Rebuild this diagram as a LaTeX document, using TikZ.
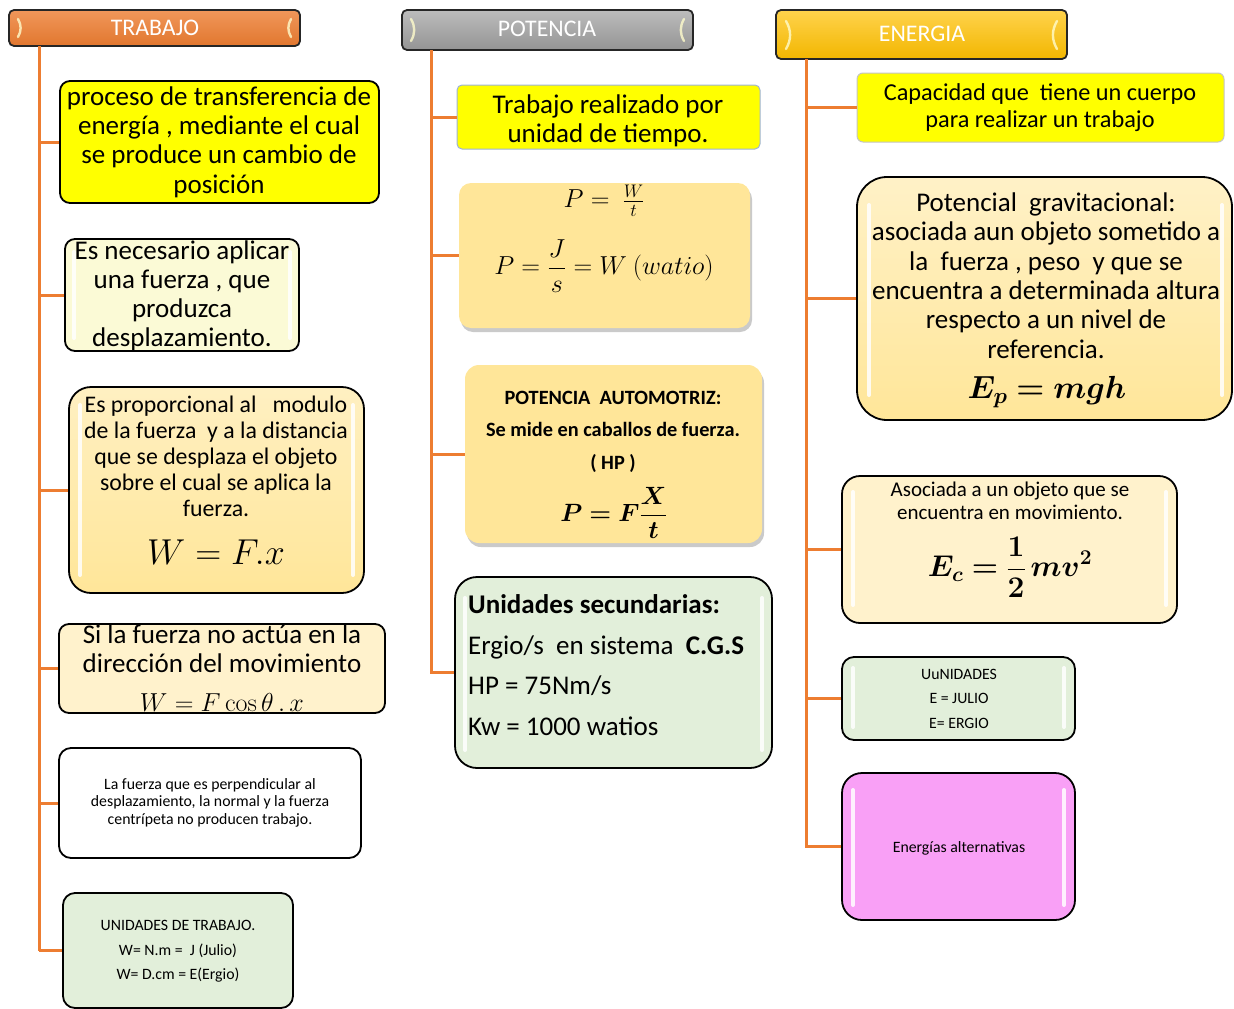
\RequirePackage{fix-cm}
\documentclass[tikz,border=0pt]{standalone}
\usepackage{bm}
\usepackage[no-math]{fontspec}
\setmainfont{Carlito}
\usetikzlibrary{fit,shadows}
\definecolor{orng}{HTML}{ED7D31}
\definecolor{hgray}{HTML}{A5A5A5}
\definecolor{gold}{HTML}{FFC000}
\definecolor{yel}{HTML}{FFFF00}
\definecolor{paleyel}{HTML}{FBFAD6}
\definecolor{goldlt}{HTML}{FFE699}
\definecolor{cream}{HTML}{FFF2CC}
\definecolor{grn}{HTML}{E2EFDA}
\definecolor{pnk}{HTML}{F9A0F6}
\definecolor{bluegray}{HTML}{9DB3D8}
\definecolor{ltgray}{HTML}{C4C4C4}
\begin{document}
\begin{tikzpicture}[x=1pt,y=-1pt,
  box/.style={draw=black, line width=1.8pt, rounded corners=#1, inner sep=0pt},
  box/.default=10pt,
  flat/.style={inner sep=0pt, rounded corners=#1},
  flat/.default=10pt,
  hdr/.style={draw=black!85, line width=1.8pt, rounded corners=5pt, inner sep=0pt},
  htxt/.style={text=white, font=\fontsize{23.8}{28}\selectfont, inner sep=0pt},
  txt/.style={align=center, inner sep=0pt},
  conn/.style={draw=orng, line width=3pt},
  shine/.style={draw=white, line width=4pt, line cap=round, opacity=0.85},
  hl/.style={draw=white!80!yellow, line width=2.4pt, line cap=round, opacity=0.8},
  shad/.style={drop shadow={shadow xshift=2pt, shadow yshift=-4pt, opacity=0.35, fill=black!60}}
]
\useasboundingbox (0,0) rectangle (1234,1009);

% ---------------- headers
\node[hdr, top color=orng!80!white, bottom color=orng!95!black, fit={(9,10) (300,46)}] (hT) {};
\node[htxt] (hTt) at (155,28) {TRABAJO};
\draw[hl] (18,19) to[bend left=30] (18,37);
\draw[hl] (291,19) to[bend right=30] (291,37);

\node[hdr, top color=hgray!75!white, bottom color=hgray!90!black, fit={(402,10) (693,50)}] (hP) {};
\node[htxt] (hPt) at (547,29) {POTENCIA};
\draw[hl] (411,19) to[bend left=30] (411,41);
\draw[hl] (684,19) to[bend right=30] (684,41);

\node[hdr, top color=gold!70!white, bottom color=gold!95!black, fit={(776,10) (1067,59)}] (hE) {};
\node[htxt] (hEt) at (922,34) {ENERGIA};
\draw[hl] (786,21) to[bend left=30] (786,49);
\draw[hl] (1057,21) to[bend right=30] (1057,49);

% ---------------- TRABAJO column
\coordinate (ta) at (39,46);
\coordinate (tb) at (39,951);
\draw[conn] (ta) -- (tb);

\node[box, fill=yel, fit={(60,81) (379,203)}] (t1) {};
\node[txt, font=\fontsize{27}{29.3}\selectfont] (t1t) at (219,142) {proceso de transferencia de\\energía , mediante el cual\\se produce un cambio de\\posición};

\node[box, fill=paleyel, fit={(65,239) (299,351)}] (t2) {};
\draw[shine] (74,252) -- (74,338);
\draw[shine] (290,252) -- (290,338);
\node[txt, font=\fontsize{27}{29}\selectfont] (t2t) at (182,295.5) {Es necesario aplicar\\una fuerza , que\\produzca\\desplazamiento.};

\node[box=22pt, top color=goldlt!60!white, bottom color=goldlt, fit={(69,387) (364,593)}] (t3) {};
\draw[shine] (80,405) -- (80,575);
\draw[shine] (353,405) -- (353,575);
\node[txt, font=\fontsize{23.8}{26}\selectfont] (t3t) at (216,456) {Es proporcional al \ \ modulo\\de la fuerza \ y a la distancia\\que se desplaza el objeto\\sobre el cual se aplica la\\fuerza.};
\node[txt, font=\fontsize{36}{42}\selectfont] (t3f) at (216,552) {$W = F.x$};

\node[box, fill=cream, fit={(59,624) (385,713)}] (t4) {};
\node[txt, font=\fontsize{27}{29}\selectfont] (t4t) at (222,648.5) {Si la fuerza no actúa en la\\dirección del movimiento};
\node[txt, font=\fontsize{26}{30}\selectfont] (t4f) at (222,702) {$W = F\cos\theta\,.\,x$};

\node[box=12pt, fill=white, fit={(59,748) (361,858)}] (t5) {};
\node[txt, font=\fontsize{15.8}{17.5}\selectfont] (t5t) at (210,802.5) {La fuerza que es perpendicular al\\desplazamiento, la normal y la fuerza\\centrípeta no producen trabajo.};

\node[box=12pt, fill=grn, fit={(63,893) (293,1008)}] (t6) {};
\node[txt, font=\fontsize{15.8}{24.5}\selectfont] (t6t) at (178,951.5) {UNIDADES DE TRABAJO.\\W= N.m = \ J (Julio)\\W= D.cm = E(Ergio)};

\foreach \b in {t1,t2,t3,t4,t5,t6} \draw[conn] (ta |- \b.west) -- (\b.west);

% ---------------- POTENCIA column
\coordinate (pa) at (431,50);
\coordinate (pb) at (431,674);
\draw[conn] (pa) -- (pb);

\node[flat=5pt, draw=bluegray, line width=1pt, fill=yel, fit={(457,85) (760,149)}] (p1) {};
\node[txt, font=\fontsize{27}{29}\selectfont] (p1t) at (608,120.5) {Trabajo realizado por\\unidad de tiempo.};

\node[flat=12pt, fill=goldlt, shad, fit={(459,183) (750,328)}] (p2) {};
\node[txt, font=\fontsize{26}{30}\selectfont] (p2a) at (604,201) {$P = \ \frac{W}{t}$};
\node[txt, font=\fontsize{26}{30}\selectfont] (p2b) at (604,266) {$\displaystyle P = \frac{J}{s} = W\ (watio)$};

\node[flat=14pt, fill=goldlt, shad, fit={(465,365) (762,543)}] (p3) {};
\node[txt, font=\bfseries\fontsize{20.3}{32.5}\selectfont] (p3t) at (613,431.5) {POTENCIA \ AUTOMOTRIZ:\\Se mide en caballos de fuerza.\\( HP )};
\node[txt, font=\fontsize{25}{29}\selectfont] (p3f) at (614,513) {$\displaystyle \bm{P} \bm{=} \bm{F}\frac{\bm{X}}{\bm{t}}$};

\node[box=22pt, fill=grn, fit={(455,577) (772,768)}] (p4) {};
\draw[shine] (465,598) -- (465,750);
\draw[shine] (762,598) -- (762,750);
\node[txt, align=left, anchor=west, font=\fontsize{27}{40.7}\selectfont] (p4t) at (468,665) {\textbf{Unidades secundarias:}\\Ergio/s \ en sistema \ \textbf{C.G.S}\\HP = 75Nm/s\\Kw = 1000 watios};

\foreach \b in {p1,p2,p3,p4} \draw[conn] (pa |- \b.west) -- (\b.west);

% ---------------- ENERGIA column
\coordinate (ea) at (806,59);
\coordinate (eb) at (806,848);
\draw[conn] (ea) -- (eb);

\node[flat=6pt, draw=ltgray, line width=1pt, fill=yel, fit={(857,73) (1224,142)}] (e1) {};
\node[txt, font=\fontsize{24.3}{27}\selectfont] (e1t) at (1040,107.5) {Capacidad que \ tiene un cuerpo\\para realizar un trabajo};

\node[box=30pt, top color=goldlt!55!white, bottom color=goldlt, fit={(857,177) (1232,420)}] (e2) {};
\draw[shine] (869,205) -- (869,395);
\draw[shine] (1222,205) -- (1222,395);
\node[txt, font=\fontsize{27}{29.4}\selectfont] (e2t) at (1046,275.5) {Potencial \ gravitacional:\\asociada aun objeto sometido a\\la \ fuerza , peso \ y que se\\encuentra a determinada altura\\respecto a un nivel de\\referencia.};
\node[txt, font=\fontsize{32}{38}\selectfont] (e2f) at (1047,392) {$\bm{E_p = mgh}$};

\node[box=18pt, fill=cream, fit={(842,476) (1177,623)}] (e3) {};
\draw[shine] (853,492) -- (853,605);
\draw[shine] (1166,492) -- (1166,605);
\node[txt, font=\fontsize{21}{23}\selectfont] (e3t) at (1010,500.5) {Asociada a un objeto que se\\encuentra en movimiento.};
\node[txt, font=\fontsize{30}{34}\selectfont] (e3f) at (1010,567) {$\displaystyle \bm{E_c} \bm{=} \frac{\bm{1}}{\bm{2}}\, \bm{mv}^{\bm{2}}$};

\node[box=12pt, fill=grn, fit={(842,657) (1075,740)}] (e4) {};
\draw[shine] (853,668) -- (853,727);
\draw[shine] (1064,668) -- (1064,727);
\node[txt, font=\fontsize{15.8}{24.5}\selectfont] (e4t) at (959,698.5) {UuNIDADES\\E = JULIO\\E= ERGIO};

\node[box=20pt, fill=pnk, fit={(842,773) (1075,920)}] (e5) {};
\draw[shine] (853,790) -- (853,905);
\draw[shine] (1064,790) -- (1064,905);
\node[txt, font=\fontsize{15.8}{17}\selectfont] (e5t) at (959,848) {Energías alternativas};

\foreach \b in {e1,e2,e3,e4,e5} \draw[conn] (ea |- \b.west) -- (\b.west);
\end{tikzpicture}
\end{document}
